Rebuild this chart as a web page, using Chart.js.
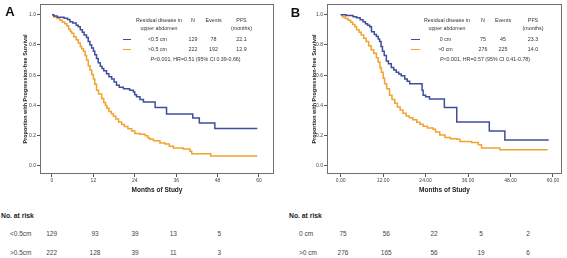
<!DOCTYPE html>
<html>
<head>
<meta charset="utf-8">
<script src="https://cdn.jsdelivr.net/npm/chart.js@4.4.1/dist/chart.umd.min.js"></script>
<style>
  html, body { margin: 0; padding: 0; background: #fff; }
  #page { position: relative; width: 567px; height: 258px; overflow: hidden;
          font-family: "Liberation Sans", Arial, sans-serif; color: #333; }
  canvas { position: absolute; top: 0; }
  .t { position: absolute; white-space: nowrap; line-height: 1; transform: translate(-50%, -50%); }
  .left { transform: translate(0, -50%); }
  .sw { position: absolute; height: 0; border-top: 1.5px solid; }
</style>
</head>
<body>
<div id="page">
  <canvas id="chartA" width="283" height="200" style="left:0"></canvas>
  <canvas id="chartB" width="284" height="200" style="left:283px"></canvas>
</div>
<script>
// axis ticks
const monthTicks = [0, 12, 24, 36, 48, 60];
const survTicks = [0, 0.2, 0.4, 0.6, 0.8, 1.0];

// panel A: residual disease in upper abdomen <0.5 cm vs >0.5 cm  [month, proportion]
const curveA_lt05 = [[0,1],[0.5,0.992],[1.5,0.984],[3.5,0.976],[4.5,0.968],[5.2,0.953],[6,0.945],[7,0.93],
  [7.6,0.92],[8.2,0.9],[8.8,0.885],[9.3,0.866],[10,0.85],[10.5,0.823],[11,0.8],[11.5,0.78],[12,0.759],
  [12.4,0.735],[12.9,0.71],[13.4,0.683],[14,0.66],[14.5,0.645],[15,0.63],[15.8,0.61],[16.5,0.59],
  [17.3,0.575],[18,0.555],[18.7,0.533],[19.5,0.52],[20.7,0.51],[22.5,0.5],[23.6,0.489],[24,0.47],
  [24.5,0.457],[25.5,0.44],[26.5,0.422],[29.9,0.386],[33.2,0.343],[40.8,0.317],[42.7,0.284],
  [47.2,0.247],[59.5,0.247]];
const curveA_gt05 = [[0,1],[0.5,0.985],[1.5,0.975],[2.3,0.963],[3,0.95],[3.7,0.94],[4.3,0.928],[4.8,0.905],
  [5.3,0.89],[5.7,0.877],[6.3,0.855],[7,0.835],[7.6,0.813],[8.2,0.79],[8.6,0.775],[9.1,0.759],[9.6,0.73],
  [10,0.7],[10.5,0.662],[11,0.635],[11.5,0.605],[12,0.575],[12.4,0.54],[12.9,0.5],[13.5,0.475],
  [14.4,0.446],[15,0.42],[15.5,0.4],[15.9,0.381],[16.5,0.36],[17.2,0.345],[17.8,0.328],[18.5,0.31],
  [19.3,0.29],[20.2,0.274],[21,0.26],[22,0.245],[23.1,0.231],[24,0.215],[25.5,0.209],[27,0.2],
  [27.8,0.185],[28.4,0.177],[29.4,0.166],[31.3,0.152],[32.8,0.145],[34,0.13],[35.2,0.119],[38,0.112],
  [40,0.097],[40.5,0.08],[46,0.066],[59.5,0.066]];

// panel B: residual disease 0 cm vs >0 cm
const curveB_0 = [[0,1],[1.5,0.995],[3.5,0.987],[4.5,0.98],[5.5,0.967],[6.3,0.953],[7,0.94],[7.6,0.93],
  [8.2,0.92],[8.7,0.888],[9.5,0.87],[10.1,0.856],[10.6,0.84],[11,0.823],[11.4,0.79],[11.8,0.759],
  [12.3,0.73],[12.9,0.694],[13.5,0.675],[14.3,0.651],[15,0.635],[15.7,0.619],[16.4,0.608],[17.1,0.597],
  [18.1,0.575],[18.8,0.56],[19.5,0.543],[23,0.5],[23.3,0.468],[24,0.457],[25.1,0.442],[29.3,0.386],
  [32.8,0.29],[42,0.231],[46.4,0.171],[58.8,0.171]];
const curveB_gt0 = [[0,1],[0.5,0.985],[1.3,0.975],[2.1,0.963],[2.8,0.95],[3.4,0.935],[4,0.92],[4.5,0.9],
  [5.2,0.885],[5.8,0.866],[6.5,0.845],[7.2,0.823],[7.9,0.795],[8.6,0.769],[9.3,0.745],[10.1,0.716],
  [10.6,0.685],[11.1,0.65],[11.5,0.619],[12,0.58],[12.4,0.543],[13,0.51],[13.8,0.468],[14.5,0.44],
  [15.3,0.414],[16,0.39],[16.8,0.37],[17.6,0.349],[18.5,0.33],[19.4,0.318],[20.4,0.306],[21.5,0.288],
  [22.4,0.275],[23.3,0.263],[24.5,0.25],[26.1,0.242],[26.8,0.225],[28,0.205],[29.5,0.187],[31,0.18],
  [32.8,0.177],[33.7,0.162],[37,0.155],[38.9,0.14],[39.8,0.119],[45,0.106],[58.5,0.106]];

// legend tables
const groupsA = ["<0.5 cm", ">0.5 cm"];
const nA = ["129", "222"];
const eventsA = ["78", "192"];
const pfsA = ["22.1", "12.9"];
const statA = ", HR=0.51 (95% CI 0.39-0.66)";
const groupsB = ["0 cm", ">0 cm"];
const nB = ["75", "276"];
const eventsB = ["45", "225"];
const pfsB = ["23.3", "14.0"];
const statB = ", HR=0.57 (95% CI 0.41-0.78)";

// numbers at risk
const riskLabelsA = ["<0.5cm", ">0.5cm"];
const riskA_lt05 = [129, 93, 39, 13, 5];
const riskA_gt05 = [222, 128, 39, 11, 3];
const riskLabelsB = ["0 cm", ">0 cm"];
const riskB_0 = [75, 56, 22, 5, 2];
const riskB_gt0 = [276, 165, 56, 19, 6];

const BLUE = "#3f4d9f";
const ORANGE = "#f2a22e";
const FONT = "'Liberation Sans', Arial, sans-serif";

Chart.defaults.font.family = FONT;
Chart.defaults.color = "#444";

const framePlugin = {
  id: "frame",
  beforeDatasetsDraw(chart) {
    const { ctx, chartArea: a } = chart;
    ctx.save();
    ctx.strokeStyle = "#707070";
    ctx.lineWidth = 1;
    ctx.strokeRect(a.left + 0.5, a.top + 0.5, a.right - a.left - 1, a.bottom - a.top - 1);
    ctx.restore();
  }
};

function toXY(pts) {
  return pts.map(p => ({ x: p[0], y: p[1] }));
}

function makeChart(id, curves, xMin, xMax, fmt, yAxisW, rightPad, yTitlePad) {
  return new Chart(document.getElementById(id), {
    type: "line",
    data: {
      datasets: curves.map(c => ({
        data: toXY(c.pts),
        borderColor: c.color,
        borderWidth: 1.5,
        pointRadius: 0,
        stepped: true,
        fill: false
      }))
    },
    options: {
      responsive: false,
      animation: false,
      layout: { padding: { left: 0, top: 0, right: rightPad, bottom: 0 } },
      plugins: { legend: { display: false }, tooltip: { enabled: false } },
      scales: {
        x: {
          type: "linear", min: xMin, max: xMax,
          afterFit: s => { s.height = 26; },
          afterBuildTicks: s => { s.ticks = monthTicks.map(v => ({ value: v })); },
          ticks: { callback: fmt, font: { size: 5 }, padding: 1, maxRotation: 0, autoSkip: false },
          grid: { drawOnChartArea: false, tickLength: 3, color: "#555" },
          border: { display: false },
          title: { display: true, text: "Months of Study", color: "#222",
                   font: { size: 6.5, weight: "bold" }, padding: { top: 0, bottom: 6 } }
        },
        y: {
          min: -0.0537, max: 1.0711,
          afterFit: s => { s.width = yAxisW; },
          afterBuildTicks: s => { s.ticks = survTicks.map(v => ({ value: v })); },
          ticks: { callback: v => v.toFixed(1), font: { size: 5 }, padding: 1, autoSkip: false },
          grid: { drawOnChartArea: false, tickLength: 3, color: "#555" },
          border: { display: false },
          title: { display: true, text: "Proportion with Progression-free Survival", color: "#222",
                   font: { size: 5.5, weight: "bold" }, padding: { top: yTitlePad, bottom: 0 } }
        }
      }
    },
    plugins: [framePlugin]
  });
}

makeChart("chartA",
  [{ pts: curveA_lt05, color: BLUE }, { pts: curveA_gt05, color: ORANGE }],
  -3.478, 64.35, v => String(v), 40, 9, 21.7);

makeChart("chartB",
  [{ pts: curveB_0, color: BLUE }, { pts: curveB_gt0, color: ORANGE }],
  -3.872, 62.55, v => v.toFixed(2), 44, 5, 28.4);

// ---- text overlays ----
const page = document.getElementById("page");

function txt(x, y, s, size, opts) {
  opts = opts || {};
  const d = document.createElement("div");
  d.className = "t" + (opts.left ? " left" : "");
  d.style.left = x + "px";
  d.style.top = y + "px";
  d.style.fontSize = size + "px";
  if (opts.bold) d.style.fontWeight = "bold";
  if (opts.color) d.style.color = opts.color;
  if (opts.italicP) {
    const i = document.createElement("i");
    i.textContent = "P";
    d.appendChild(i);
    d.appendChild(document.createTextNode(s));
  } else {
    d.textContent = s;
  }
  page.appendChild(d);
}

function swatch(x1, x2, y, color) {
  const d = document.createElement("div");
  d.className = "sw";
  d.style.left = x1 + "px";
  d.style.top = y + "px";
  d.style.width = (x2 - x1) + "px";
  d.style.borderColor = color;
  page.appendChild(d);
}

function legendBox(cols, sw, groups, n, events, pfs, stat, pCenter) {
  const fs = 5.3;
  txt(cols[0], 21, "Residual disease in", fs);
  txt(cols[0], 29, "upper abdomen", fs);
  txt(cols[1], 21, "N", fs);
  txt(cols[2], 21, "Events", fs);
  txt(cols[3], 21, "PFS", fs);
  txt(cols[3], 29, "(months)", fs);
  [40, 50].forEach((y, i) => {
    swatch(sw[0], sw[1], y - 0.75, i === 0 ? BLUE : ORANGE);
    txt(cols[0] - 1.5, y, groups[i], fs);
    txt(cols[1], y, n[i], fs);
    txt(cols[2], y, events[i], fs);
    txt(cols[3], y, pfs[i], fs);
  });
  txt(pCenter, 60, "<0.001" + stat, fs, { italicP: true });
}

legendBox([159, 193, 213.5, 241.5], [123, 131], groupsA, nA, eventsA, pfsA, statA, 195.5);
legendBox([447, 483, 503, 533], [411, 420], groupsB, nB, eventsB, pfsB, statB, 485);

// panel letters
txt(10, 11, "A", 13, { bold: true, color: "#111" });
txt(295.5, 11.5, "B", 13, { bold: true, color: "#111" });

// numbers at risk tables
function riskTable(x0, labelX, colX, labels, rows) {
  txt(x0, 216, "No. at risk", 6.8, { bold: true, left: true, color: "#222" });
  rows.forEach((vals, r) => {
    const y = r === 0 ? 234.3 : 253.3;
    txt(labelX, y, labels[r], 6.5, { left: true, color: "#444" });
    vals.forEach((v, i) => txt(colX[i], y, String(v), 6.5, { color: "#444" }));
  });
}

riskTable(1, 10, [51.7, 95, 135, 173.3, 219.3], riskLabelsA, [riskA_lt05, riskA_gt05]);
riskTable(289, 299, [343, 386.3, 434, 481, 528], riskLabelsB, [riskB_0, riskB_gt0]);
</script>
</body>
</html>
